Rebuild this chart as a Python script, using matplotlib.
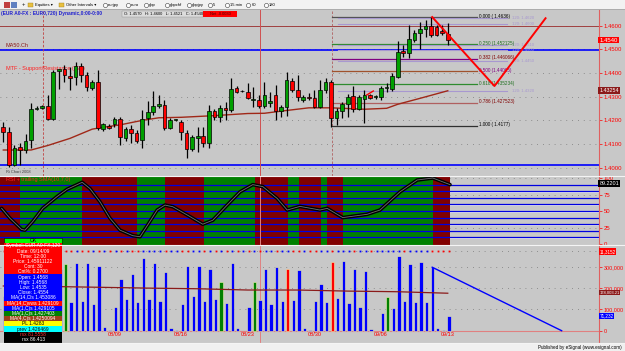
import matplotlib
matplotlib.use('Agg')
import matplotlib.pyplot as plt
from matplotlib.patches import Rectangle
import numpy as np

plt.rcParams['font.family'] = ['Liberation Sans', 'DejaVu Sans']

# ---------------- data ----------------
opens = [1.4173, 1.4151, 1.4012, 1.4088, 1.4075, 1.4117, 1.4250, 1.4252, 1.4261, 1.4206,
         1.4410, 1.4417, 1.4387, 1.4383, 1.4429, 1.4392, 1.4337, 1.4362, 1.4164, 1.4176,
         1.4185, 1.4206, 1.4126, 1.4164, 1.4147, 1.4117, 1.4210, 1.4235, 1.4261, 1.4265,
         1.4168, 1.4200, 1.4193, 1.4147, 1.4079, 1.4126, 1.4134, 1.4105, 1.4240, 1.4214,
         1.4252, 1.4244, 1.4337, 1.4322, 1.4320, 1.4288, 1.4286, 1.4261, 1.4275, 1.4307,
         1.4240, 1.4256, 1.4366, 1.4328, 1.4286, 1.4299, 1.4294, 1.4256, 1.4328, 1.4362,
         1.4210, 1.4240, 1.4269, 1.4303, 1.4248, 1.4290, 1.4307, 1.4297, 1.4299, 1.4335,
         1.4332, 1.4383, 1.4493, 1.4484, 1.4539, 1.4569, 1.4586, 1.4598, 1.4594, 1.4577,
         1.4565]
highs = [1.4194, 1.4173, 1.4096, 1.4105, 1.4143, 1.4273, 1.4261, 1.4265, 1.4307, 1.4413,
         1.4417, 1.4434, 1.4425, 1.4446, 1.4442, 1.4404, 1.4370, 1.4413, 1.4189, 1.4185,
         1.4214, 1.4214, 1.4172, 1.4181, 1.4159, 1.4244, 1.4282, 1.4324, 1.4307, 1.4286,
         1.4210, 1.4206, 1.4202, 1.4159, 1.4138, 1.4172, 1.4172, 1.4265, 1.4248, 1.4265,
         1.4278, 1.4379, 1.4345, 1.4328, 1.4358, 1.4341, 1.4307, 1.4362, 1.4320, 1.4349,
         1.4265, 1.4404, 1.4379, 1.4392, 1.4307, 1.4316, 1.4328, 1.4370, 1.4379, 1.4370,
         1.4252, 1.4278, 1.4311, 1.4345, 1.4307, 1.4328, 1.4311, 1.4307, 1.4345, 1.4358,
         1.4400, 1.4535, 1.4518, 1.4603, 1.4581, 1.4615, 1.4624, 1.4636, 1.4603, 1.4603,
         1.4611]
lows = [1.4110, 1.4003, 1.4008, 1.4012, 1.4062, 1.4083, 1.4244, 1.4248, 1.4202, 1.4202,
        1.4332, 1.4362, 1.4328, 1.4349, 1.4362, 1.4324, 1.4328, 1.4159, 1.4155, 1.4164,
        1.4172, 1.4096, 1.4113, 1.4105, 1.4105, 1.4083, 1.4181, 1.4223, 1.4252, 1.4159,
        1.4164, 1.4197, 1.4117, 1.4041, 1.4071, 1.4067, 1.4088, 1.4083, 1.4202, 1.4193,
        1.4202, 1.4235, 1.4316, 1.4320, 1.4290, 1.4256, 1.4252, 1.4252, 1.4256, 1.4202,
        1.4214, 1.4219, 1.4320, 1.4282, 1.4278, 1.4286, 1.4252, 1.4252, 1.4316, 1.4172,
        1.4181, 1.4210, 1.4214, 1.4235, 1.4244, 1.4189, 1.4290, 1.4290, 1.4286, 1.4320,
        1.4324, 1.4379, 1.4467, 1.4463, 1.4531, 1.4501, 1.4552, 1.4552, 1.4556, 1.4560,
        1.4518]
closes = [1.4152, 1.4012, 1.4083, 1.4075, 1.4113, 1.4248, 1.4254, 1.4261, 1.4206, 1.4404,
          1.4415, 1.4392, 1.4379, 1.4429, 1.4392, 1.4341, 1.4362, 1.4168, 1.4185, 1.4168,
          1.4206, 1.4130, 1.4164, 1.4147, 1.4113, 1.4206, 1.4235, 1.4261, 1.4269, 1.4168,
          1.4202, 1.4204, 1.4151, 1.4079, 1.4130, 1.4134, 1.4105, 1.4240, 1.4214, 1.4252,
          1.4244, 1.4332, 1.4320, 1.4326, 1.4294, 1.4292, 1.4261, 1.4307, 1.4282, 1.4240,
          1.4256, 1.4370, 1.4328, 1.4299, 1.4299, 1.4294, 1.4256, 1.4328, 1.4362, 1.4210,
          1.4240, 1.4269, 1.4299, 1.4248, 1.4299, 1.4307, 1.4294, 1.4301, 1.4337, 1.4339,
          1.4387, 1.4489, 1.4484, 1.4543, 1.4569, 1.4586, 1.4598, 1.4560, 1.4560, 1.4569,
          1.4539]

ma_idx = [0, 5, 8, 12, 16, 18, 21, 25, 28, 32, 38, 44, 47, 50, 55, 59, 65, 69, 71, 75, 80]
ma_val = [1.4075, 1.4075, 1.4094, 1.4124, 1.4163, 1.4171, 1.4181, 1.4200, 1.4211, 1.4213,
          1.4220, 1.4229, 1.4230, 1.4239, 1.4253, 1.4253, 1.4247, 1.4251, 1.4268, 1.4293, 1.4325]

fib_ratios = [0.0, 0.25, 0.382, 0.5, 0.618, 0.786, 1.0]
fib_high, fib_low = 1.4636, 1.4177
fib_labels = ['0.000 ( 1.4636)', '0.250 (1.452125)', '0.382 (1.446066)', '0.500 (1.44065)',
              '0.618 (1.435234)', '0.786 (1.427523)', '1.000 ( 1.4177)']
fib_colors = ['#505050', '#2E8B2E', '#800080', '#A0522D', '#2E8B2E', '#B06060', '#303030']
fib_text_colors = ['#000000', '#207020', '#800000', '#800080', '#207020', '#800000', '#000000']

sr_levels = [1.4636, 1.4610, 1.4520, 1.4500, 1.4455, 1.4325]
sr_labels = ['120: 1.4620', '120: 1.4600', '120: 1.4510', '120: 1.4500', '120: 1.4450', '120: 1.4320']

zig_idx = [77.2, 88.4, 97.6]
zig_val = [1.4636, 1.4345, 1.4631]

rsi_idx = [-0.3, 1.2, 3.3, 3.9, 5.3, 7.1, 9.7, 11.5, 14.2, 15.6, 17.4, 19.2, 21.0, 23.3, 24.6,
           26.0, 27.7, 29.1, 30.5, 33.1, 35.9, 37.7, 40.3, 42.6, 44.9, 46.7, 49.3, 51.1, 53.4,
           57.0, 58.3, 61.1, 65.5, 67.8, 71.4, 74.5, 77.3, 80.4]
rsi_val = [54, 39, 22, 21, 34, 54, 72, 83, 93.5, 84, 64, 39, 21, 12.6, 11,
           29, 51.5, 59, 56.5, 44, 30, 36, 59, 79, 90, 87, 69, 51.5, 57,
           51.5, 54, 40, 45, 51.5, 79, 97, 100, 90]
band_edges = [-0.6, 3.0, 14.1, 24.0, 29.1, 36.1, 45.3, 51.3, 53.3, 57.2, 58.3, 61.2, 77.4, 80.4]
band_states = ['dn', 'up', 'dn', 'up', 'dn', 'up', 'dn', 'up', 'dn', 'up', 'dn', 'up', 'dn']

volume_k = [163, 150, 280, 140, 300, 130, 290, 150, 310, 140, 290,
            313, 136, 319, 139, 316, 125, 305, 16, 3, 113,
            241, 149, 266, 136, 343, 147, 316, 139, 274, 14,
            2, 124, 304, 164, 304, 140, 290, 150, 230, 130,
            320, 15, 0, 110, 230, 145, 290, 125, 300, 140,
            290, 145, 285, 11, 3, 139, 219, 136, 324, 152,
            327, 129, 288, 113, 280, 8, 0, 82, 157, 108,
            352, 141, 312, 136, 324, 136, 298, 14, 2, 70]
volume_col = ['b'] * 81
for k, v in [(11, 'g'), (39, 'g'), (45, 'g'), (51, 'r'), (59, 'r'), (69, 'g')]:
    volume_col[k] = v
vma_idx = [0, 10, 17, 26, 35, 44, 53, 62, 71, 80]
vma_val = [210, 207, 204, 200, 197, 191, 191, 186, 183, 176]
vtrend_idx = [77.2, 100.5]
vtrend_val = [298, 0]

date_idx = [20, 32, 44, 56, 68, 80]
date_lbl = ['08/09', '08/16', '08/23', '08/30', '09/06', '09/13']

# ---------------- layout ----------------
W, H = 625, 351
BG = '#C8C8C8'
fig = plt.figure(figsize=(6.25, 3.51), dpi=100)
fig.patch.set_facecolor(BG)


def ax_px(x0, y0, x1, y1, **kw):
    return fig.add_axes([x0 / W, 1 - y1 / H, (x1 - x0) / W, (y1 - y0) / H], **kw)


XL = (-0.594, 107.22)
FS = 4.3
SM = 3.3
GRID = dict(color='#7A7A7A', lw=0.6, ls=(0, (1, 6)))


def style(a):
    a.set_facecolor(BG)
    a.set_xlim(*XL)
    for s in ['top', 'left', 'bottom']:
        a.spines[s].set_visible(False)
    a.spines['right'].set_color('#E06060')
    a.spines['right'].set_linewidth(0.8)
    a.set_xticks([])
    a.yaxis.tick_right()
    a.tick_params(axis='y', colors='#FF0000', labelsize=FS, length=2, pad=1.5, width=0.5)


# ---- main price panel ----
ax = ax_px(0, 10, 599, 176)
style(ax)
ax.set_ylim(1.39653, 1.46658)
levels = [1.40, 1.41, 1.42, 1.43, 1.44, 1.45, 1.46]
ax.set_yticks(levels)
ax.set_yticklabels(['%.4f' % v for v in levels])
for v in levels:
    ax.axhline(v, **GRID, zorder=1)

ax.axhline(1.4597, color='#A04040', lw=0.7, zorder=2)
ax.axhline(1.4498, color='#0000FF', lw=1.2, zorder=2)
ax.axhline(1.4013, color='#0000FF', lw=1.2, zorder=2)
ax.axvline(7.1, color='#C04040', lw=0.6, ls=(0, (3, 2)), zorder=2)
ax.axvline(46.2, color='#D05050', lw=0.7, zorder=2)
ax.axvline(59.2, color='#B06060', lw=0.6, ls=(0, (3, 2)), zorder=2)

rng = fib_high - fib_low
for r, lab, c, tc in zip(fib_ratios, fib_labels, fib_colors, fib_text_colors):
    lv = fib_high - r * rng
    ax.plot([59.2, 85.3], [lv, lv], color=c, lw=0.9, zorder=2)
    ax.text(85.6, lv + 0.0004, lab, color=tc, fontsize=SM, va='center', ha='left', zorder=6)
for lv, lab in zip(sr_levels, sr_labels):
    ax.plot([60.2, 90.7], [lv - 0.0003, lv - 0.0003], color='#A898D0', lw=0.8, zorder=2)
    ax.text(91.5, lv - 0.0003, lab, color='#A898D0', fontsize=SM - 0.2, va='center', ha='left')

ax.plot(ma_idx, ma_val, color='#A02818', lw=1.0, zorder=3)

for i, (o, h, l, c) in enumerate(zip(opens, highs, lows, closes)):
    col = '#00A000' if c >= o else '#FF0000'
    ax.vlines(i, l, h, color='black', lw=0.9, zorder=4)
    b = min(o, c)
    hh = max(abs(c - o), 0.0001)
    ax.add_patch(Rectangle((i - 0.33, b), 0.66, hh, facecolor=col, edgecolor='black', lw=0.5, zorder=5))

ax.plot(zig_idx, zig_val, color='#FF0000', lw=1.4, zorder=6)
ax.plot([65.4, 66.6], [1.4307, 1.4324], color='#FF0000', lw=1.0, zorder=6)

ax.text(0.4, 1.4518, 'MA50.Ch', color='#8B1A1A', fontsize=FS - 0.3, va='center')
ax.text(0.4, 1.4420, 'MTF - Support/Resistance (120)', color='#FF2020', fontsize=FS - 0.3, va='center')
ax.text(0.4, 1.3984, 'Ri Chart 2008', color='#404040', fontsize=SM - 0.4, va='center')

# price tags
ax.text(1.0005, 1.4539, '1.4540', transform=ax.get_yaxis_transform(), fontsize=FS, color='white',
        va='center', ha='left', bbox=dict(boxstyle='square,pad=0.15', fc='#FF0000', ec='none'))
ax.text(1.0005, 1.4325, '1.43254', transform=ax.get_yaxis_transform(), fontsize=FS - 0.4, color='white',
        va='center', ha='left', bbox=dict(boxstyle='square,pad=0.15', fc='#8B1A1A', ec='none'))

# ---- RSI panel ----
ar = ax_px(0, 176.5, 599, 244.5)
style(ar)
ar.set_ylim(-0.76, 102.3)
ar.set_yticks([0, 25, 50, 75, 100])
ar.set_yticklabels(['0', '25', '50', '75', '100'])
for e0, e1, st in zip(band_edges[:-1], band_edges[1:], band_states):
    ar.axvspan(e0, e1, color='#008000' if st == 'up' else '#800000', lw=0, zorder=1)
for v in [25, 75, 100]:
    ar.axhline(v, **GRID, zorder=0.5)
for v in range(10, 100, 10):
    ar.axhline(v - 0.8, color='#F0F0F0', lw=0.6, zorder=0.8)
    ar.axhline(v, color='#0000E0', lw=0.9, zorder=2)
ar.axvline(46.2, color='#E08080', lw=0.7, zorder=2.5)
ar.plot(rsi_idx, rsi_val, color='black', lw=2.6, zorder=3, solid_capstyle='round')
ar.plot(rsi_idx, rsi_val, color='#707070', lw=0.6, zorder=4)
ar.text(0.4, 98, 'RSI + trailing SMA(10,7,0)', color='#FF2020', fontsize=FS - 0.3, va='center', zorder=5)
ar.text(1.0005, 92, '89.2201', transform=ar.get_yaxis_transform(), fontsize=FS - 0.4, color='white',
        va='center', ha='left', bbox=dict(boxstyle='square,pad=0.15', fc='black', ec='none'))

# ---- volume panel ----
av = ax_px(0, 245, 599, 343)
style(av)
av.set_ylim(-57.7, 402.4)
av.set_yticks([0, 100, 200, 300])
av.set_yticklabels(['0', '100,000', '200,000', '300,000'])
av.tick_params(axis='y', labelsize=FS - 0.4)
for v in [100, 200, 300, 372]:
    av.axhline(v, **GRID, zorder=0.5)
av.axhline(0, color='#E08080', lw=0.8, zorder=2)
cmap = {'b': '#0000FF', 'g': '#008000', 'r': '#FF0000'}
for i, (v, c) in enumerate(zip(volume_k, volume_col)):
    if v > 0:
        av.bar(i + 0.2, v, width=0.6, color=cmap[c], edgecolor='#F0F0B0', lw=0.4, zorder=3)
    mc = '#FF0000' if closes[i] < opens[i] else '#0000FF'
    av.plot(i + 0.2, 372, marker='s', ms=1.3, mew=0, color=mc, zorder=3)
av.plot(vma_idx, vma_val, color='#8B1A1A', lw=0.9, zorder=4)
av.plot(vtrend_idx, vtrend_val, color='#0000FF', lw=1.0, zorder=4)
av.axvline(46.2, color='#E08080', lw=0.7, zorder=2.5)
for d, lab in zip(date_idx, date_lbl):
    av.plot([d, d], [0, -6], color='#FF0000', lw=0.5)
    av.text(d, -8, lab, color='#FF0000', fontsize=FS - 0.3, ha='center', va='top')
yt = av.get_yaxis_transform()
av.text(1.0005, 372, '11,3152', transform=yt, fontsize=SM, color='white', va='center', ha='left',
        bbox=dict(boxstyle='square,pad=0.15', fc='#FF0000', ec='none'))
av.text(1.0005, 178, '178,003.21', transform=yt, fontsize=SM - 0.3, color='white', va='center', ha='left',
        bbox=dict(boxstyle='square,pad=0.1', fc='#8B1A1A', ec='none'))
av.text(1.0005, 70, '71,232', transform=yt, fontsize=SM, color='white', va='center', ha='left',
        bbox=dict(boxstyle='square,pad=0.15', fc='#0000FF', ec='none'))

# ---------------- chrome overlay (pixel space) ----------------
ov = fig.add_axes([0, 0, 1, 1], zorder=10)
ov.set_xlim(0, W)
ov.set_ylim(H, 0)
ov.axis('off')
ov.patch.set_alpha(0)


def box(x0, y0, x1, y1, fc, ec='none', lw=0.0):
    ov.add_patch(Rectangle((x0, y0), x1 - x0, y1 - y0, facecolor=fc, edgecolor=ec, lw=lw))


# toolbar
box(0, 0, W, 9, '#F2F2F2')
ov.plot([0, W], [9, 9], color='#A0A0A0', lw=0.5)
box(4, 2, 10, 8, '#C04040')
box(11, 2, 17, 8, '#6080C0')
ov.text(23, 5, '+', fontsize=FS, va='center', ha='center')
items = [(30, 'Equities \u25be'), (61, 'Other Intervals \u25be')]
for x, t in items:
    box(x - 2, 2.5, x + 3, 7, '#E8C040', ec='#A08020', lw=0.3)
    ov.text(x + 5, 5, t, fontsize=SM - 0.3, va='center')
circ = [(105, 'eurjpy'), (127.7, 'euro'), (145.7, 'gbp'), (166.7, 'gbpchf'), (189, 'gbpjpy'),
        (210, '5'), (226.7, '15 min'), (248.3, '60'), (265.7, '180')]
for x, t in circ:
    ov.plot(x, 5, marker='o', ms=3.0, mfc='white', mec='#404040', mew=0.4)
    ov.text(x + 3, 5, t, fontsize=SM - 0.3, va='center')

# header
ov.text(1, 13.5, '(EUR A0-FX : EUR0,720) Dynamic,0:00-0:00', color='#2020D0', fontsize=SM + 0.2,
        fontweight='bold', va='center')
box(122, 10.8, 203, 16.5, '#DCDCDC', ec='#909090', lw=0.3)
ov.text(124, 13.7, 'O: 1.4570   H: 1.4600   L: 1.4521   C: 1.4540', fontsize=SM - 0.4, va='center')
box(203, 10.8, 237, 16.5, '#FF0000')
ov.text(220, 13.7, 'Net -0.0030', fontsize=SM - 0.4, va='center', ha='center', color='#400000')

# separators between panels
ov.plot([0, W], [176.2, 176.2], color='#F4F4F4', lw=0.8)
ov.plot([0, W], [244.8, 244.8], color='#F4F4F4', lw=0.8)
ov.plot([0, W], [343.2, 343.2], color='#F4F4F4', lw=0.8)

# info box
box(4, 238, 62, 243.3, '#00FF00', ec='black', lw=0.4)
ov.text(33, 240.8, 'OK', fontsize=FS - 0.6, ha='center', va='center')
box(4, 243.3, 62, 274.3, '#FF0000')
red_lines = ['Symbol: EUR A0-FX,120', 'Date: 09/14/09', 'Time: 12:00', 'Price: 1.45911122',
             'Cont: 30', 'Cnt%: 0.2700']
for k, t in enumerate(red_lines):
    ov.text(33, 246 + k * 5.1, t, color='white', fontsize=FS - 0.8, ha='center', va='center')
box(4, 274.3, 62, 300.7, '#0000FF')
blue_lines = ['Open: 1.4568', 'High: 1.4568', 'Low: 1.4535', 'Close: 1.4554', 'MA(14,Cls 1.453086']
for k, t in enumerate(blue_lines):
    ov.text(33, 277.7 + k * 5.05, t, color='white', fontsize=FS - 0.8, ha='center', va='center')
rows = [('#FF0000', 'MA(14,C)vwa 1.429109', 'white'),
        ('#0000FF', 'MA(1,C)s 1.429105', 'white'),
        ('#008000', 'MA(1,C)s 1.427403', 'white'),
        ('#A0401A', 'MA(4,C)s 1.4250094', 'white'),
        ('#FFFF00', 'PL 1.4283', 'black'),
        ('#00FFFF', 'prev 1.426469', 'black')]
y = 300.7
for fc, t, tc in rows:
    box(4, y, 62, y + 5.15, fc)
    ov.text(33, y + 2.6, t, color=tc, fontsize=FS - 0.8, ha='center', va='center')
    y += 5.15
box(4, y, 62, 343.3, '#000000')
ov.text(33, y + 2.8, 'rsx 81.5558', color='#FF3030', fontsize=FS - 0.8, ha='center', va='center')
ov.text(33, y + 8.0, 'rsx 86.413', color='white', fontsize=FS - 0.8, ha='center', va='center')

# status bar
box(0, 343.5, W, H, '#F0F0F0')
ov.text(622, 347.3, 'Published by eSignal (www.esignal.com)', fontsize=SM, ha='right', va='center')

fig.savefig('out.png', dpi=100, facecolor=fig.get_facecolor())
